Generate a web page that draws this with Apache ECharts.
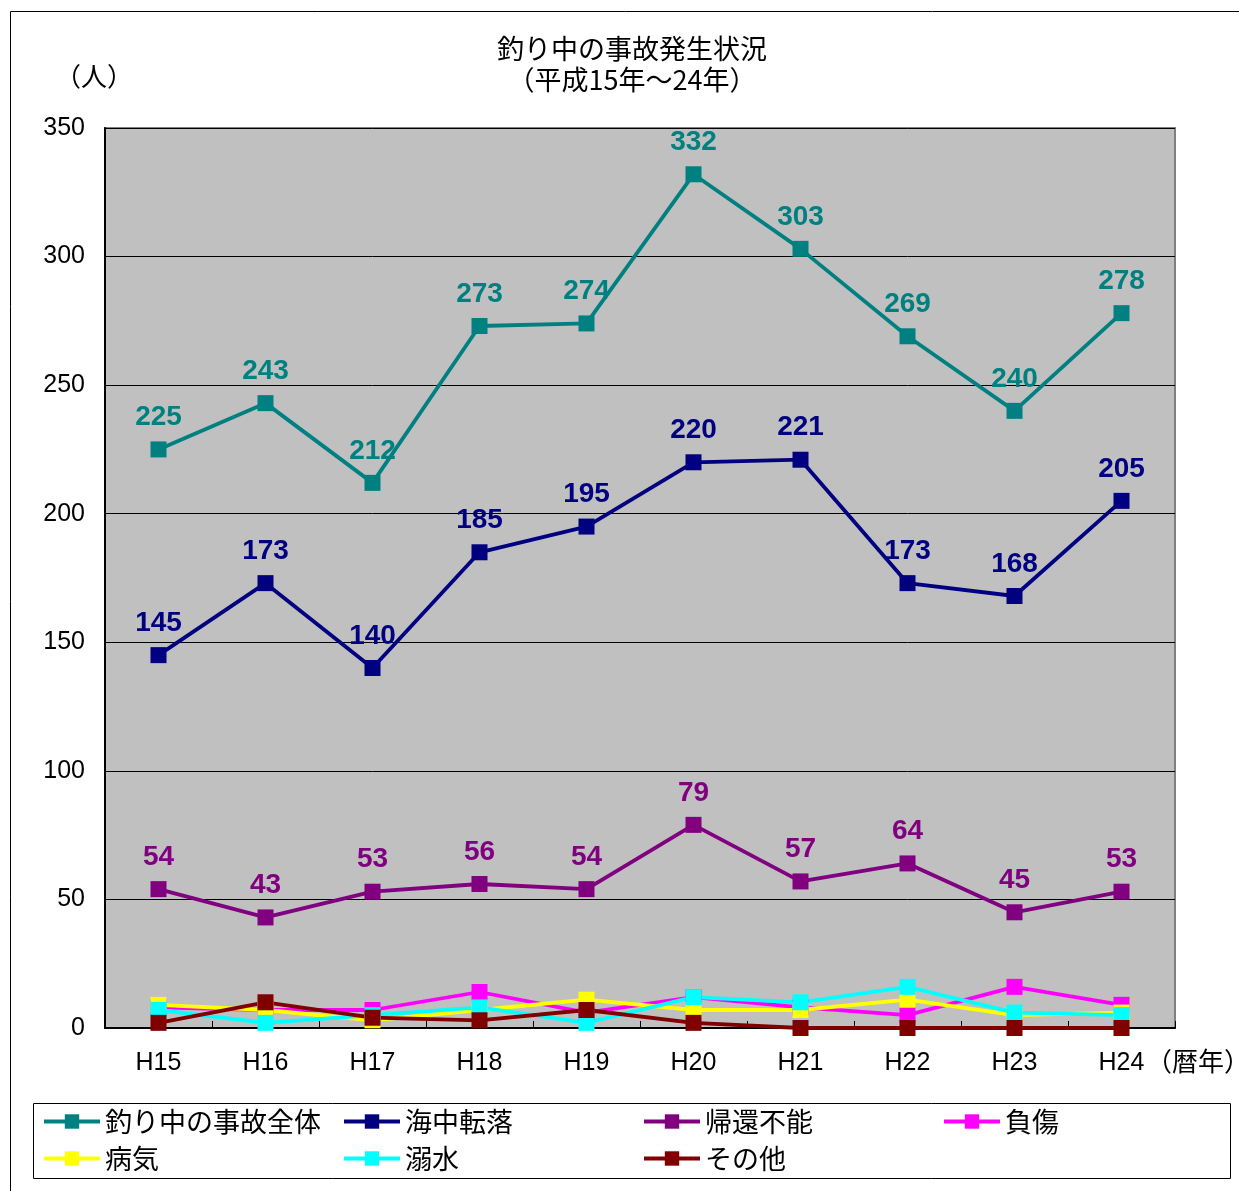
<!DOCTYPE html>
<html>
<head>
<meta charset="utf-8">
<script src="https://cdn.jsdelivr.net/npm/echarts@6/dist/echarts.min.js"></script>
<style>
  html, body { margin: 0; padding: 0; background: #fff; }
  #chart { width: 1239px; height: 1191px; }
</style>
</head>
<body>
<div id="chart"></div>
<script>
// 釣り中の事故発生状況（平成15年～24年）
const years = ['H15', 'H16', 'H17', 'H18', 'H19', 'H20', 'H21', 'H22', 'H23', 'H24'];

const totalAccidents = [225, 243, 212, 273, 274, 332, 303, 269, 240, 278]; // 釣り中の事故全体
const fallOverboard  = [145, 173, 140, 185, 195, 220, 221, 173, 168, 205]; // 海中転落
const notReturned    = [54, 43, 53, 56, 54, 79, 57, 64, 45, 53];           // 帰還不能
const injuries       = [8, 7, 7, 14, 6, 12, 8, 5, 16, 9];                  // 負傷
const illness        = [9, 7, 3, 7, 11, 7, 7, 11, 5, 6];                   // 病気
const drowning       = [7, 2, 5, 8, 2, 12, 10, 16, 6, 5];                  // 溺水
const others         = [2, 10, 4, 3, 7, 2, 0, 0, 0, 0];                    // その他

const yTicks = { min: 0, max: 350, interval: 50 };

const seriesDefs = [
  { name: '釣り中の事故全体', data: totalAccidents, color: '#008080', label: true },
  { name: '海中転落',         data: fallOverboard,  color: '#000080', label: true },
  { name: '帰還不能',         data: notReturned,    color: '#800080', label: true },
  { name: '負傷',             data: injuries,       color: '#FF00FF', label: false },
  { name: '病気',             data: illness,        color: '#FFFF00', label: false },
  { name: '溺水',             data: drowning,       color: '#00FFFF', label: false },
  { name: 'その他',           data: others,         color: '#800000', label: false }
];

const JP = '"Noto Sans CJK JP", "Noto Sans", sans-serif';
const NUM = '"Liberation Sans", Arial, sans-serif';
const NUM_NARROW = '"Liberation Sans Narrow", "Liberation Sans", sans-serif';

// legend placement: 4 columns x 2 rows inside a framed box
const legendCols = [42, 342, 642, 942];
const legendRows = [1108, 1145];
const legends = seriesDefs.map((s, i) => ({
  data: [s.name],
  left: legendCols[i % 4],
  top: legendRows[Math.floor(i / 4)],
  padding: 0,
  itemWidth: 56,
  itemHeight: 18,
  itemGap: 4,
  itemStyle: { color: s.color },
  lineStyle: { width: 4, color: s.color },
  textStyle: { fontFamily: JP, fontSize: 27, color: '#000', padding: [0, 0, 0, 0] },
  selectedMode: false
}));

const chart = echarts.init(document.getElementById('chart'), null, { renderer: 'canvas' });

chart.setOption({
  animation: false,
  backgroundColor: '#fff',
  title: {
    text: '釣り中の事故発生状況\n（平成15年～24年）',
    left: 632,
    top: 33,
    padding: 0,
    textAlign: 'center',
    textStyle: { fontFamily: JP, fontSize: 27, fontWeight: 'normal', color: '#000', lineHeight: 31 }
  },
  legend: legends,
  grid: {
    left: 105, right: 64, top: 128, bottom: 163,
    show: true,
    backgroundColor: '#c0c0c0',
    borderColor: '#808080',
    borderWidth: 2
  },
  xAxis: {
    type: 'category',
    data: years,
    boundaryGap: true,
    axisLine: { lineStyle: { color: '#000', width: 2 } },
    axisTick: { show: true, inside: true, length: 7, lineStyle: { color: '#000', width: 1 } },
    axisLabel: { fontFamily: NUM, fontSize: 25, color: '#000', margin: 23 },
    splitLine: { show: false }
  },
  yAxis: {
    type: 'value',
    min: yTicks.min,
    max: yTicks.max,
    interval: yTicks.interval,
    axisLine: { show: true, lineStyle: { color: '#000', width: 2 } },
    axisTick: { show: true, inside: true, length: 7, lineStyle: { color: '#000' } },
    axisLabel: { fontFamily: NUM, fontSize: 25, color: '#000', margin: 20 },
    splitLine: { show: true, lineStyle: { color: '#000', width: 1 } }
  },
  series: seriesDefs.map(s => ({
    name: s.name,
    type: 'line',
    data: s.data,
    symbol: 'rect',
    symbolSize: 16,
    color: s.color,
    lineStyle: { width: 3.8, color: s.color },
    itemStyle: { color: s.color },
    label: s.label ? {
      show: true,
      position: 'top',
      distance: 10,
      color: s.color,
      fontFamily: NUM_NARROW,
      fontWeight: 'bold',
      fontSize: 28
    } : { show: false }
  })),
  graphic: [
    // outer frame
    { type: 'rect', shape: { x: 10.5, y: 11.5, width: 1260, height: 1220 },
      style: { fill: 'none', stroke: '#000', lineWidth: 1 }, silent: true, z: -1 },
    // legend frame
    { type: 'rect', shape: { x: 33.5, y: 1103.5, width: 1197, height: 75 },
      style: { fill: 'none', stroke: '#000', lineWidth: 1 }, silent: true },
    // unit label
    { type: 'text', left: 55, top: 63,
      style: { text: '（人）', fontFamily: JP, fontSize: 26, fill: '#000' } },
    // calendar-year note after the last category
    { type: 'text', left: 1146, top: 1048,
      style: { text: '（暦年）', fontFamily: JP, fontSize: 26, fill: '#000' } }
  ]
});
</script>
</body>
</html>
